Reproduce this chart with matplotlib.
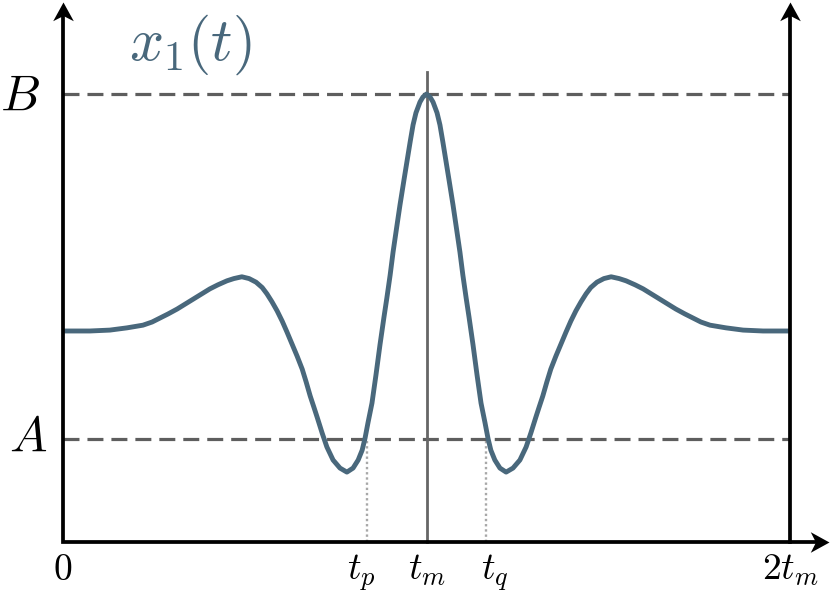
import matplotlib
matplotlib.use("Agg")
import matplotlib.pyplot as plt
from matplotlib.path import Path
from matplotlib.markers import MarkerStyle

plt.rcParams['mathtext.fontset'] = 'cm'

# ---- data (t in units of t_m, amplitude in units of B) ----
t_vals = [0.000, 0.074, 0.129, 0.176, 0.220, 0.245, 0.267, 0.289, 0.314, 0.336,
          0.358, 0.382, 0.404, 0.426, 0.451, 0.470, 0.492, 0.512, 0.531, 0.548,
          0.561, 0.575, 0.589, 0.603, 0.616, 0.630, 0.644, 0.658, 0.669, 0.680,
          0.691, 0.699, 0.713, 0.726, 0.743, 0.762, 0.781, 0.798, 0.812, 0.823,
          0.831, 0.839, 0.850, 0.861, 0.872, 0.883, 0.891, 0.900, 0.908, 0.919,
          0.927, 0.938, 0.946, 0.955, 0.963, 0.971, 0.982, 0.990,
          1.000,
          1.010, 1.018, 1.029, 1.037, 1.045, 1.054, 1.062, 1.073, 1.081, 1.092,
          1.100, 1.109, 1.117, 1.128, 1.139, 1.150, 1.161, 1.169, 1.177, 1.188,
          1.202, 1.219, 1.238, 1.257, 1.274, 1.287, 1.301, 1.309, 1.320, 1.331,
          1.342, 1.356, 1.370, 1.384, 1.397, 1.411, 1.425, 1.439, 1.452, 1.469,
          1.488, 1.508, 1.530, 1.549, 1.574, 1.596, 1.618, 1.642, 1.664, 1.686,
          1.711, 1.733, 1.755, 1.780, 1.824, 1.871, 1.926, 2.000]
x1_vals = [0.471, 0.471, 0.473, 0.478, 0.484, 0.491, 0.500, 0.509, 0.520, 0.531,
           0.542, 0.554, 0.565, 0.574, 0.583, 0.588, 0.592, 0.588, 0.580, 0.568,
           0.554, 0.536, 0.516, 0.493, 0.469, 0.442, 0.415, 0.386, 0.357, 0.326,
           0.299, 0.279, 0.243, 0.212, 0.183, 0.165, 0.156, 0.165, 0.183, 0.205,
           0.232, 0.266, 0.310, 0.373, 0.440, 0.502, 0.545, 0.596, 0.647, 0.708,
           0.752, 0.808, 0.848, 0.893, 0.931, 0.958, 0.982, 0.993,
           1.000,
           0.993, 0.982, 0.958, 0.931, 0.893, 0.848, 0.808, 0.752, 0.708, 0.647,
           0.596, 0.545, 0.502, 0.440, 0.373, 0.310, 0.266, 0.232, 0.205, 0.183,
           0.165, 0.156, 0.165, 0.183, 0.212, 0.243, 0.279, 0.299, 0.326, 0.357,
           0.386, 0.415, 0.442, 0.469, 0.493, 0.516, 0.536, 0.554, 0.568, 0.580,
           0.588, 0.592, 0.588, 0.583, 0.574, 0.565, 0.554, 0.542, 0.531, 0.520,
           0.509, 0.500, 0.491, 0.484, 0.478, 0.473, 0.471, 0.471]

level_B = 1.0
level_A = 0.23
t_p = 0.835
t_m = 1.0
t_q = 1.165
t_end = 2.0

tick_positions = [0.0, t_p, t_m, t_q, t_end]
tick_labels = [r'$0$', r'$t_p$', r'$t_m$', r'$t_q$', r'$2t_m$']
tick_offsets = [0.0, -0.015, 0.0, 0.023, 0.0]

curve_color = '#49687c'
dash_color = '#5e5e5e'

# ---- figure ----
fig = plt.figure(figsize=(8.31, 5.91), dpi=100)
ax = fig.add_axes([0, 0, 1, 1])
ax.set_xlim(-63 / 363.5, 768 / 363.5)
ax.set_ylim(-49 / 448, 542 / 448)
ax.axis('off')

y_top = 540 / 448
x_right_tip = 766 / 363.5

# dashed levels
for lvl in (level_B, level_A):
    ax.plot([0, t_end], [lvl, lvl], color=dash_color, lw=2.3,
            linestyle=(0, (5, 2.5)), solid_capstyle='butt', zorder=2)

# dotted drop lines
for tt in (t_p, t_q):
    ax.plot([tt, tt], [0, level_A], color='#a8a8a8', lw=1.7,
            linestyle=(0, (1, 1.2)), zorder=1)

# vertical at t_m
ax.plot([t_m, t_m], [0, 470 / 448], color='#666666', lw=2.0, zorder=2)

# curve
ax.plot(t_vals, x1_vals, color=curve_color, lw=3.5, solid_joinstyle='round',
        solid_capstyle='butt', zorder=3)

# axes
ax.plot([0, 0, x_right_tip - 0.02], [y_top - 0.02, 0, 0], color='black', lw=2.7,
        solid_joinstyle='miter', zorder=4)
ax.plot([t_end, t_end], [0, y_top - 0.02], color='black', lw=2.7, zorder=4)

up = Path([(0, 0), (-0.55, -1.0), (0, -0.72), (0.55, -1.0), (0, 0)],
          [Path.MOVETO, Path.LINETO, Path.LINETO, Path.LINETO, Path.CLOSEPOLY])
right = Path([(0, 0), (-1.0, 0.55), (-0.72, 0), (-1.0, -0.55), (0, 0)],
             [Path.MOVETO, Path.LINETO, Path.LINETO, Path.LINETO, Path.CLOSEPOLY])
ax.plot([0, t_end], [y_top, y_top], linestyle='none', marker=MarkerStyle(up),
        markersize=27, color='black', markeredgewidth=0, zorder=5)
ax.plot([x_right_tip], [0], linestyle='none', marker=MarkerStyle(right),
        markersize=27, color='black', markeredgewidth=0, zorder=5)

# labels
ax.text(-0.119, 0.993, r'$B$', fontsize=36, ha='center', va='center')
ax.text(-0.097, 0.234, r'$A$', fontsize=36, ha='center', va='center')
ax.text(0.352, 1.109, r'$x_1(t)$', fontsize=43, ha='center', va='center',
        color=curve_color)

for pos, lab, off in zip(tick_positions, tick_labels, tick_offsets):
    ax.text(pos + off, -0.085, lab, fontsize=27, ha='center', va='baseline')

fig.savefig('out.png', dpi=100)
